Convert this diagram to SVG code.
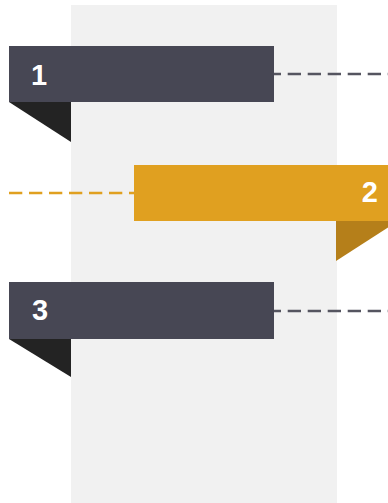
<svg xmlns="http://www.w3.org/2000/svg" width="388" height="503" viewBox="0 0 388 503">
<style>
.dark{fill:#474754}
.darkfold{fill:#232323}
.orange{fill:#E0A020}
.orangefold{fill:#B57F1A}
.num{font-family:"Liberation Sans",Arial,sans-serif;font-weight:bold;font-size:29px;fill:#ffffff}
.dash{fill:none;stroke-width:2.5;stroke-dasharray:13.3 6.7}
</style>
<rect x="71" y="5" width="266" height="498" fill="#F1F1F1"/>
<g id="connectors">
<line class="dash" x1="267.7" y1="74" x2="388" y2="74" stroke="#555560"/>
<line class="dash" x1="9" y1="193" x2="134" y2="193" stroke="#E0A020"/>
<line class="dash" x1="267.7" y1="311" x2="388" y2="311" stroke="#555560"/>
</g>
<g id="node1">
<polygon class="darkfold" points="9,102 71,102 71,142"/>
<rect class="dark" x="9" y="46" width="265" height="56"/>
<text class="num" x="31" y="84.5">1</text>
</g>
<g id="node2">
<polygon class="orangefold" points="336,221 398,221 336,261"/>
<rect class="orange" x="134" y="165" width="265" height="56"/>
<text class="num" x="378" y="201.7" text-anchor="end">2</text>
</g>
<g id="node3">
<polygon class="darkfold" points="9,339 71,339 71,377"/>
<rect class="dark" x="9" y="282" width="265" height="57"/>
<text class="num" x="32" y="319.8">3</text>
</g>
</svg>
